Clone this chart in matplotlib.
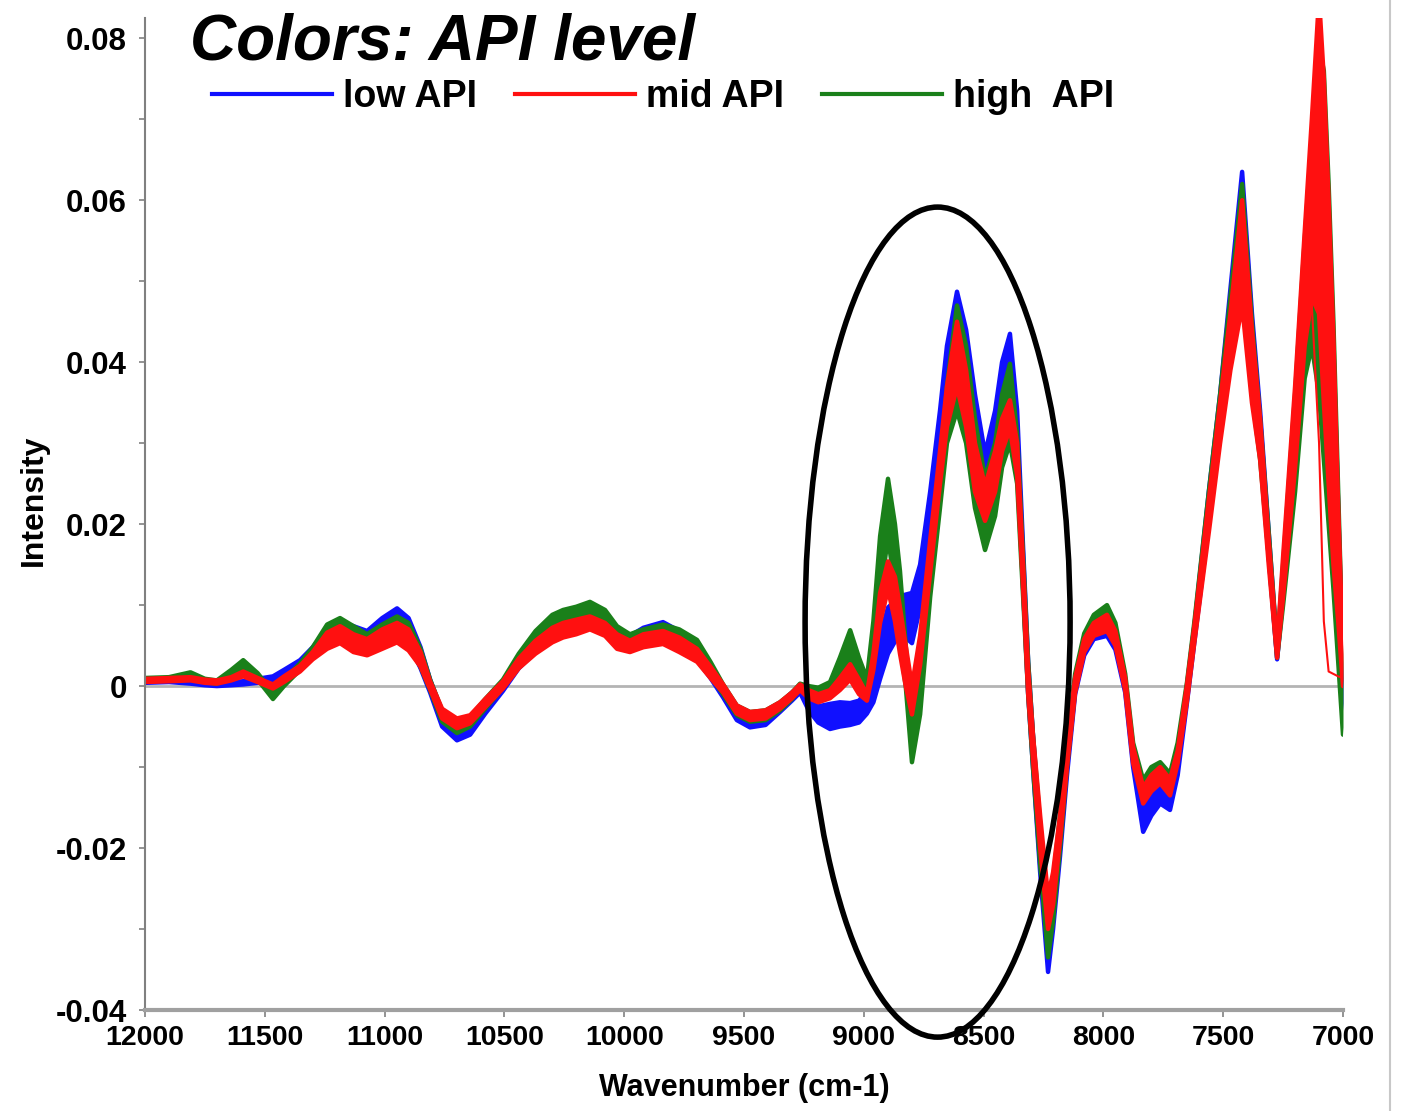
import matplotlib
matplotlib.use('Agg')
import matplotlib.pyplot as plt
from matplotlib.patches import Ellipse
from matplotlib.lines import Line2D
import numpy as np

plt.rcParams['font.family'] = ['Liberation Sans Narrow', 'Liberation Sans', 'DejaVu Sans']

# wavenumber grid (cm-1) at the features
wavenumber = [12000, 11900, 11810, 11750, 11700, 11640, 11590, 11530, 11466, 11420,
              11353, 11300, 11240, 11186, 11130, 11073, 11010, 10948, 10900, 10850,
              10810, 10760, 10698, 10643, 10580, 10506, 10440, 10370, 10300, 10255,
              10200, 10143, 10080, 10030, 9976, 9920, 9838, 9770, 9696, 9640,
              9587, 9530, 9475, 9410, 9350, 9300, 9266, 9230, 9190, 9141,
              9100, 9057, 9020, 8987, 8960, 8932, 8899, 8870, 8849, 8825,
              8799, 8765, 8723, 8682, 8653, 8611, 8573, 8536, 8494, 8452,
              8423, 8390, 8360, 8335, 8314, 8294, 8264, 8231, 8210, 8181,
              8152, 8118, 8080, 8040, 7985, 7950, 7909, 7876, 7834, 7800,
              7763, 7722, 7690, 7651, 7620, 7560, 7513, 7470, 7421, 7380,
              7346, 7310, 7275, 7250, 7200, 7160, 7130, 7100, 7080, 7060,
              7040, 7020, 7000]

# band envelopes per API group, intensity x 1000
low_lo = [0.4, 0.5, 0.3, 0.1, 0.0, 0.1, 0.2, 0.4, 0.6, 1.2,
          2.3, 3.8, 5.4, 5.8, 5.0, 4.8, 5.8, 6.6, 5.4, 2.2,
          -0.8, -5.0, -6.7, -6.0, -3.4, -0.6, 2.2, 4.2, 5.6, 6.2,
          6.6, 7.2, 6.4, 5.0, 4.6, 5.2, 5.8, 4.8, 3.2, 1.0,
          -1.4, -4.2, -5.1, -4.8, -3.2, -1.8, -0.8, -3.0, -4.5, -5.3,
          -5.0, -4.8, -4.5, -3.4, -2.0, 0.9, 4.0, 5.5, 6.2, 6.0,
          5.3, 9.7, 20, 30, 37, 40, 36, 30, 25, 30,
          35, 36.2, 28, 12, -1, -10, -23, -35.3, -30, -21,
          -11, -1, 3.8, 5.8, 6.2, 4.5, -0.8, -10, -18, -16,
          -14.5, -15.3, -11, -2, 5.5, 20, 31, 41, 50, 37,
          29, 16, 3.3, 11, 28, 46, 55, 50, 40, 28,
          16, 6, -3]
low_hi = [0.8, 0.9, 0.7, 0.5, 0.4, 0.5, 0.6, 0.9, 1.2, 2.0,
          3.2, 4.8, 7.0, 8.0, 7.4, 6.8, 8.4, 9.6, 8.4, 4.8,
          0.8, -3.2, -4.8, -4.4, -2.0, 0.6, 3.6, 6.0, 7.6, 8.4,
          8.8, 9.6, 8.6, 7.0, 6.2, 7.2, 7.9, 6.8, 5.2, 2.6,
          -0.2, -2.8, -3.6, -3.4, -2.2, -0.8, 0.0, -1.5, -2.5, -2.2,
          -2.0, -2.1, -1.8, -0.6, 2.0, 6.2, 9.7, 10.5, 11.1, 11.3,
          11.5, 15.0, 24, 34, 42, 48.7, 44, 36, 28.7, 34,
          40, 43.5, 34, 17, 3, -6, -18, -30, -25, -17,
          -8, 1, 5.2, 7.2, 7.8, 6.0, 0.8, -8, -15, -13,
          -12, -13, -9, 0, 7.5, 24, 36, 49, 63.5, 46,
          34, 19, 4.5, 14, 35, 54, 66, 75, 70, 58,
          42, 22, 1]
mid_lo = [0.5, 0.6, 0.7, 0.4, 0.3, 0.7, 1.2, 0.5, -0.3, 0.5,
          1.8, 3.3, 4.6, 5.3, 4.2, 3.8, 4.6, 5.4, 4.4, 2.4,
          -0.4, -4.0, -5.2, -4.6, -2.6, -0.3, 2.2, 4.0, 5.4, 6.0,
          6.4, 7.0, 6.2, 4.6, 4.2, 4.8, 5.2, 4.2, 3.0, 1.0,
          -0.8, -3.4, -4.2, -4.0, -2.8, -1.5, -0.5, -1.5, -2.0, -1.5,
          -0.5, 0.8, -1.0, -1.8, 2.0, 7.8, 12.0, 8.0, 4.0, 0.0,
          -3.5, 2.6, 14, 25, 32, 37, 32, 24, 20.4, 24,
          29, 31.8, 26, 12, -1, -9, -20, -30, -27, -19,
          -10, -0.8, 4.2, 6.2, 6.8, 5.0, -0.5, -9.5, -14.5, -13,
          -12, -13.5, -9.5, -1.8, 5.5, 19, 30, 39, 47, 35,
          28, 15, 3.5, 11, 27, 42, 48, 46, 35, 25,
          15, 8, 0]
mid_hi = [0.9, 1.0, 1.1, 0.8, 0.7, 1.1, 1.8, 1.0, 0.2, 1.2,
          2.5, 4.2, 6.6, 7.4, 6.4, 5.8, 7.0, 7.8, 7.0, 4.2,
          0.6, -2.8, -4.0, -3.6, -1.6, 0.6, 3.4, 5.6, 7.2, 7.8,
          8.2, 8.6, 7.8, 6.4, 5.6, 6.4, 6.8, 6.0, 4.6, 2.4,
          0.2, -2.4, -3.2, -3.0, -2.0, -0.8, 0.2, -0.5, -1.0, -0.5,
          1.0, 2.7, 0.8, -1.0, 4.0, 11.5, 15.4, 13.5, 9.7, 5.0,
          0.0, 6.2, 18, 29, 37, 45, 39, 30, 24.7, 29,
          33, 35.3, 30, 15, 2, -6, -16, -26, -23, -16,
          -7, 1.0, 5.8, 7.8, 8.8, 6.8, 1.0, -7.5, -12.5, -11,
          -10, -11.5, -8, 0.2, 7.5, 23, 35, 46, 60, 44,
          33, 18, 4.8, 16, 37, 56, 70, 85, 75, 60,
          43, 22, 4]
high_lo = [0.6, 0.7, 1.0, 0.5, 0.3, 1.2, 2.3, 0.8, -1.6, 0.0,
           2.0, 3.8, 5.6, 6.0, 4.6, 4.2, 5.0, 5.6, 4.8, 2.4,
           -0.5, -4.4, -5.8, -5.0, -2.8, -0.2, 2.6, 4.6, 5.8, 6.4,
           6.8, 7.4, 6.6, 5.0, 4.6, 5.2, 5.6, 4.8, 3.4, 1.2,
           -1.0, -3.6, -4.4, -4.2, -3.0, -1.6, -0.3, -1.0, -1.2, -0.5,
           1.0, 3.5, 0.5, -0.6, 4.0, 11.0, 18.5, 12.0, 5.3, 0.0,
           -9.4, -3.5, 11, 22, 30, 34, 30, 22, 16.8, 21,
           27, 30, 25, 11, -1, -10, -22, -33.5, -29, -20,
           -10, -0.5, 4.8, 6.8, 7.8, 5.8, 0.0, -9, -14, -12,
           -11.5, -12.5, -9, -1.5, 6, 20, 31, 40, 48.5, 36,
           28, 16, 3.5, 10, 24, 38, 42, 36, 28, 20,
           12, 3, -6]
high_hi = [1.0, 1.1, 1.7, 0.9, 0.7, 2.0, 3.2, 1.6, -0.8, 0.8,
           2.8, 4.8, 7.6, 8.4, 7.4, 6.4, 7.6, 8.6, 7.8, 4.6,
           0.8, -3.0, -4.2, -3.8, -1.6, 0.8, 4.0, 6.8, 8.8, 9.4,
           9.8, 10.4, 9.4, 7.4, 6.4, 7.0, 7.6, 7.0, 5.7, 3.0,
           0.2, -2.4, -3.2, -3.0, -2.0, -0.8, 0.3, 0.0, -0.2, 0.5,
           3.5, 6.9, 3.5, 0.9, 8.0, 18.5, 25.6, 20.0, 14.2, 5.0,
           -3.5, 3.5, 16, 27, 37, 47, 42, 33, 25.6, 30,
           36, 39.8, 31, 16, 3, -6, -17, -27, -24, -16,
           -7, 1.5, 6.5, 8.8, 10.0, 7.8, 1.5, -7, -11.6, -10,
           -9.4, -10.8, -7, 0.5, 8, 24, 36, 48, 62, 45,
           33, 19, 4.8, 15, 36, 55, 68, 79, 76, 62,
           45, 24, 3]

# one mid-API spectrum that falls off early at the last band
drop_wn = [7160, 7130, 7100, 7080, 7060, 7040, 7020, 7000]
drop_y = [42, 47, 30, 8, 1.8, 1.5, 1.2, 1.0]

labels = ['low API', 'mid API', 'high  API']
colors = ['#1010ff', '#ff1010', '#1a801a']

x_ticks = [12000, 11500, 11000, 10500, 10000, 9500, 9000, 8500, 8000, 7500, 7000]
y_ticks = [-0.04, -0.02, 0, 0.02, 0.04, 0.06, 0.08]
y_labels = ['-0.04', '-0.02', '0', '0.02', '0.04', '0.06', '0.08']

W, H = 1401, 1111
fig = plt.figure(figsize=(W / 100, H / 100), dpi=100)
ax = fig.add_axes([145 / W, 101 / H, 1198 / W, 992 / H])

x = np.array(wavenumber)
bands = {
    'low': (np.array(low_lo) / 1000, np.array(low_hi) / 1000, colors[0]),
    'high': (np.array(high_lo) / 1000, np.array(high_hi) / 1000, colors[2]),
    'mid': (np.array(mid_lo) / 1000, np.array(mid_hi) / 1000, colors[1]),
}
# draw order: blue, green, red on top
for key in ['low', 'high', 'mid']:
    lo, hi, c = bands[key]
    ax.fill_between(x, lo, hi, color=c, lw=0, zorder=2)
    ax.plot(x, lo, color=c, lw=3.2, zorder=2, solid_joinstyle='round', solid_capstyle='round')
    ax.plot(x, hi, color=c, lw=3.2, zorder=2, solid_joinstyle='round', solid_capstyle='round')
ax.plot(drop_wn, np.array(drop_y) / 1000, color=colors[1], lw=1.5, zorder=2)

ax.axhline(0, color='#b4b4b4', lw=2, zorder=1)

ax.set_xlim(12000, 7000)
ax.set_ylim(-0.04, 0.0825)
ax.set_xticks(x_ticks)
ax.set_xticklabels([str(v) for v in x_ticks])
ax.set_yticks(y_ticks)
ax.set_yticklabels(y_labels)
ax.set_yticks(np.arange(-0.03, 0.08, 0.02), minor=True)

for lab in ax.get_xticklabels():
    lab.set_fontweight('bold')
    lab.set_fontsize(20.5)
for lab in ax.get_yticklabels():
    lab.set_fontweight('bold')
    lab.set_fontsize(22.5)
ax.tick_params(axis='both', which='both', direction='out', color='#808080', width=1.2)
ax.tick_params(axis='x', length=5, pad=6)
ax.tick_params(axis='y', which='major', length=4, pad=9)
ax.tick_params(axis='y', which='minor', length=4)

for s in ['top', 'right']:
    ax.spines[s].set_visible(False)
ax.spines['left'].set_color('#808080')
ax.spines['left'].set_linewidth(1.5)
ax.spines['bottom'].set_color('#a0a0a0')
ax.spines['bottom'].set_linewidth(3)

ax.set_xlabel('Wavenumber (cm-1)', fontsize=22, fontweight='bold')
ax.xaxis.set_label_coords(0.5, -0.064)
ax.set_ylabel('Intensity', fontsize=23, fontweight='bold')
ax.yaxis.set_label_coords(-0.08, 0.514)

# the highlighted region
ax.add_patch(Ellipse((8692, 0.0079), width=1106, height=0.1025, fill=False,
                     ec='black', lw=4, clip_on=False, zorder=5))

handles = [Line2D([], [], color=c, lw=3) for c in colors]
fig.legend(handles, labels, ncol=3, loc='center left',
           bbox_to_anchor=(212 / W, 1 - 97 / H), frameon=False,
           prop={'size': 27, 'weight': 'bold'}, handlelength=3.2,
           handletextpad=0.3, columnspacing=1.0, borderpad=0, borderaxespad=0)

fig.text(190 / W, 1 - 60 / H, 'Colors: API level', fontsize=46, fontweight='bold',
         fontstyle='italic', family=['Liberation Sans', 'DejaVu Sans'], va='baseline')

fig.add_artist(Line2D([1390 / W, 1390 / W], [0, 1], transform=fig.transFigure,
                      color='#c8c8c8', lw=1.5))

fig.savefig('out.png', dpi=100)
